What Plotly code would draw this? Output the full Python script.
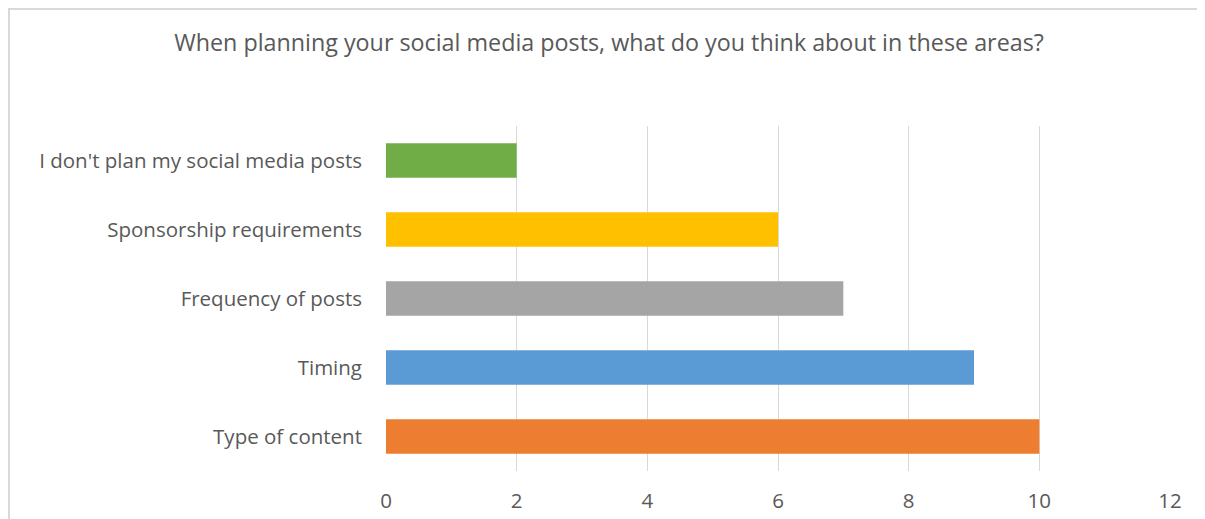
import plotly.graph_objects as go

categories = ["Type of content", "Timing", "Frequency of posts",
              "Sponsorship requirements", "I don't plan my social media posts"]
values = [10, 9, 7, 6, 2]
colors = ["#ED7D31", "#5B9BD5", "#A5A5A5", "#FFC000", "#70AD47"]
x_ticks = [0, 2, 4, 6, 8, 10, 12]
title = "When planning your social media posts, what do you think about in these areas?"

W, H = 1205, 519
L, R, T, B = 378, 43, 118, 56
PW, PH = W - L - R, H - T - B

fig = go.Figure(go.Bar(
    x=values, y=categories, orientation="h",
    marker=dict(color=colors, line=dict(width=0)),
    hoverinfo="x+y",
))

fig.update_layout(
    width=W, height=H,
    paper_bgcolor="white", plot_bgcolor="white",
    margin=dict(l=L, r=R, t=T, b=B),
    bargap=0.5,
    showlegend=False,
    font=dict(family="Open Sans", color="#595959", size=20),
    title=dict(text=title, x=601 / W, xanchor="center", y=1 - 35 / H, yanchor="middle",
               font=dict(size=23.3, color="#595959", family="Open Sans")),
    xaxis=dict(range=[0, 12], tickvals=x_ticks, showgrid=True, gridcolor="#D9D9D9",
               gridwidth=1.3, zeroline=False, showline=False, ticks="",
               tickfont=dict(size=20.5), ticklabelstandoff=15),
    yaxis=dict(showgrid=False, zeroline=False, showline=False, ticks="",
               tickfont=dict(size=20.5), ticklabelstandoff=23),
    shapes=[dict(type="rect", xref="paper", yref="paper",
                 x0=-(L - 1) / PW, x1=1 + (R + 20) / PW,
                 y0=-(B + 20) / PH, y1=1 + (T - 1) / PH,
                 line=dict(color="#D9D9D9", width=2), layer="below")],
)

fig.write_html("out.html")
